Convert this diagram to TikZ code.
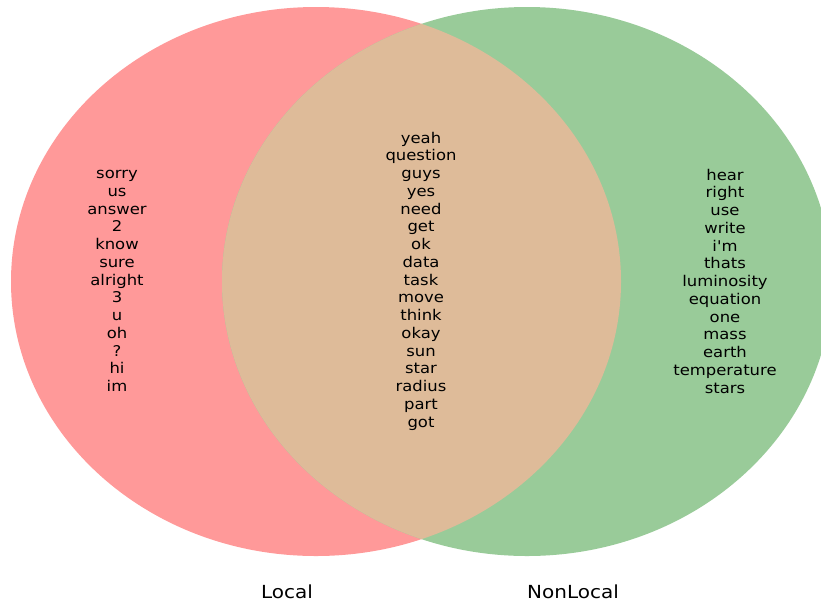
\documentclass[tikz,border=0pt]{standalone}
\usepackage{fontspec}
\setmainfont{DejaVu Sans}[Ligatures=ResetAll]
\definecolor{localred}{RGB}{255,153,153}
\definecolor{nonlocalgreen}{RGB}{153,203,153}
\definecolor{bothtan}{RGB}{222,187,153}
\begin{document}
\begin{tikzpicture}[x=1pt,y=-1pt,
    words/.style={align=center,inner sep=0pt,xscale=1.11,
        font=\fontsize{14.8}{17.75}\selectfont},
    setname/.style={inner sep=0pt,xscale=1.11,
        font=\fontsize{18}{21}\selectfont}]
    \useasboundingbox (0,0) rectangle (821,606);
    \clip (0,0) rectangle (821,606);
    %% sets
    \fill[localred] (316,281.5) ellipse [x radius=305,y radius=274.5];
    \fill[nonlocalgreen] (527,281.5) ellipse [x radius=305,y radius=274.5];
    \begin{scope}
        \clip (316,281.5) ellipse [x radius=305,y radius=274.5];
        \fill[bothtan] (527,281.5) ellipse [x radius=305,y radius=274.5];
    \end{scope}
    %% words
    \node[words] (localonly) at (117,281) {sorry\\us\\answer\\2\\know\\sure\\alright\\3\\u\\oh\\?\\hi\\im};
    \node[words] (both) at (421,281) {yeah\\question\\guys\\yes\\need\\get\\ok\\data\\task\\move\\think\\okay\\sun\\star\\radius\\part\\got};
    \node[words] (nonlocalonly) at (725,281) {hear\\right\\use\\write\\i\textquotesingle m\\thats\\luminosity\\equation\\one\\mass\\earth\\temperature\\stars};
    %% set labels
    \node[setname] (local) at (287,592) {Local};
    \node[setname] (nonlocal) at (573,592) {NonLocal};
\end{tikzpicture}
\end{document}
